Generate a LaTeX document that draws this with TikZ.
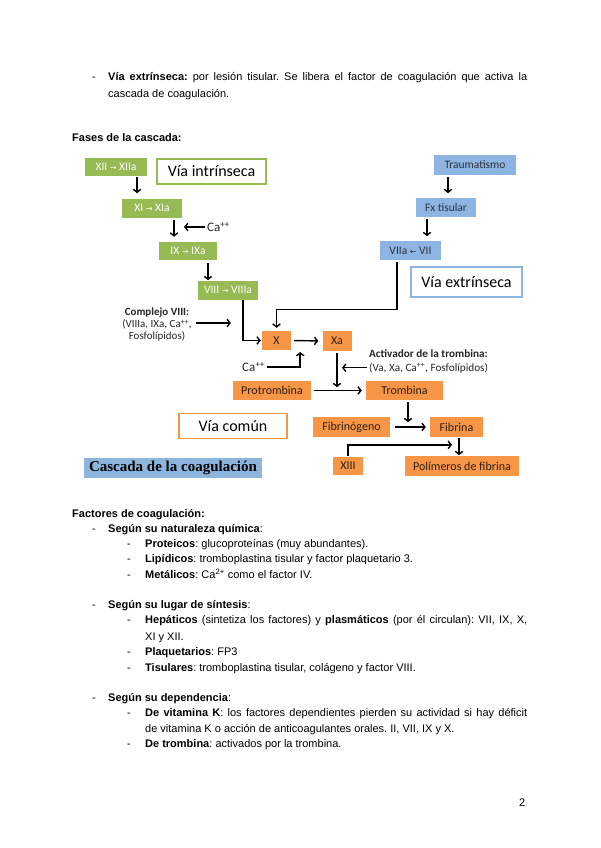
\documentclass[tikz,border=0pt]{standalone}
\usepackage{fontspec}
\setmainfont{Liberation Sans}
\newfontfamily\calib{Carlito}
\newfontfamily\tnr{Liberation Serif}
\newfontfamily\djv{DejaVu Sans}
\usetikzlibrary{arrows.meta}
\definecolor{gfill}{RGB}{150,186,84}
\definecolor{bfill}{RGB}{141,180,226}
\definecolor{ofill}{RGB}{247,150,70}
\definecolor{tfill}{RGB}{141,180,220}
\definecolor{btext}{RGB}{45,50,60}
\definecolor{otext}{RGB}{45,30,20}
\newcommand{\rar}{{\djv\fontsize{8}{9}\selectfont →}}
\newcommand{\lar}{{\djv\fontsize{8}{9}\selectfont ←}}
\frenchspacing
\begin{document}
\begin{tikzpicture}[x=1pt,y=-1pt,
  txt/.style={anchor=base west,inner sep=0pt,font=\fontsize{11}{13}\selectfont},
  sz/.style 2 args={minimum width=#1pt,minimum height=#2pt},
  gbox/.style={fill=gfill,text=white,inner sep=0pt,font=\calib\fontsize{11.5}{13}\selectfont},
  bbox/.style={fill=bfill,text=btext,inner sep=0pt,font=\calib\fontsize{11.5}{13}\selectfont},
  obox/.style={fill=ofill,text=otext,inner sep=0pt,font=\calib\fontsize{12}{13}\selectfont},
  lbl/.style={fill=white,draw=#1,line width=1.6pt,inner sep=0pt,font=\calib\fontsize{16}{18}\selectfont},
  dtxt/.style={inner sep=0pt,text=black!85,font=\calib\fontsize{10}{12}\selectfont},
  arr/.style={draw,line width=1.4pt,-{Straight Barb[length=3pt,width=7.5pt]}}
]
\useasboundingbox (0,0) rectangle (600,848);
\fill[white] (0,0) rectangle (600,848);

% ---------- body text top ----------
\node[txt] (d1) at (92,81) {-};
\node[txt] (t1) at (108,81) {\makebox[419pt][s]{\textbf{Vía extrínseca:} por lesión tisular. Se libera el factor de coagulación que activa la}};
\node[txt] (t2) at (108,98) {cascada de coagulación.};
\node[txt] (fases) at (72,142) {\textbf{Fases de la cascada:}};

% ---------- diagram: intrinsic ----------
\node[gbox,sz={62}{18}] (g1) at (116,167) {XII \rar{} XIIa};
\node[lbl=gfill,sz={109}{25}] (vi) at (211.5,171.5) {Vía intrínseca};
\node[gbox,sz={60}{19}] (g2) at (152,208) {XI \rar{} XIa};
\node[gbox,sz={58}{18}] (g3) at (188,251) {IX \rar{} IXa};
\node[gbox,sz={60}{19}] (g4) at (228,290) {VIII \rar{} VIIIa};
\node[dtxt,anchor=west,font=\calib\fontsize{13}{15}\selectfont] (ca1) at (207,227) {Ca\textsuperscript{++}};

\draw[arr] ([xshift=21pt,yshift=-1pt]g1.south) -- ++(0,16);
\draw[arr] ([xshift=22pt,yshift=-2pt]g2.south) -- ++(0,17);
\draw[arr] ([xshift=-2pt]ca1.west) -- ++(-21,0);
\draw[arr] ([xshift=20pt,yshift=-3pt]g3.south) -- ++(0,17);

% ---------- diagram: extrinsic ----------
\node[bbox,sz={82}{20}] (b1) at (475,165) {Traumatismo};
\node[bbox,sz={60}{19}] (b2) at (446,207.5) {Fx tisular};
\node[bbox,sz={61}{19}] (b3) at (410.5,250.5) {VIIa \lar{} VII};
\node[lbl=bfill,sz={111}{30}] (ve) at (466.5,282) {Vía extrínseca};

\draw[arr] ([xshift=-27pt,yshift=-2pt]b1.south) -- ++(0,16);
\draw[arr] ([xshift=-19pt,yshift=-2pt]b2.south) -- ++(0,17);

% ---------- diagram: common ----------
\node[obox,sz={29}{19}] (X) at (276.5,340.5) {X};
\node[obox,sz={29}{20}] (Xa) at (337,341) {Xa};
\node[obox,sz={78}{19}] (pro) at (272,390.5) {Protrombina};
\node[obox,sz={77}{19}] (tro) at (404.5,390.5) {Trombina};
\node[obox,sz={77}{20}] (fg) at (351.5,427) {Fibrinógeno};
\node[obox,sz={53}{20}] (fb) at (456.5,427) {Fibrina};
\node[obox,sz={30}{18}] (x13) at (348,466) {XIII};
\node[obox,sz={114}{20}] (pol) at (462,466) {Polímeros de fibrina};
\node[lbl=ofill,sz={108}{25}] (vc) at (233,426) {Vía común};
\node[fill=tfill,sz={178}{20},inner sep=0pt,font=\tnr\bfseries\fontsize{15}{17}\selectfont] (tit) at (173,468) {Cascada de la coagulación};

\node[dtxt,align=center,font=\calib\fontsize{11}{12}\selectfont] (cx) at (157,325) {\textbf{Complejo VIII:}\\(VIIIa, IXa, Ca\textsuperscript{++},\\Fosfolípidos)};
\node[dtxt,anchor=west,font=\calib\fontsize{13}{15}\selectfont] (ca2) at (242,367) {Ca\textsuperscript{++}};
\node[dtxt,anchor=base west,font=\calib\fontsize{11.2}{13}\selectfont] (act1) at (369,357) {\textbf{Activador de la trombina:}};
\node[dtxt,anchor=base west,font=\calib\fontsize{11.2}{13}\selectfont] (act2) at (369,371) {(Va, Xa, Ca\textsuperscript{++}, Fosfolípidos)};

\draw[arr] ([xshift=-13.5pt,yshift=-2pt]b3.south) -- ++(0,47) -| ([yshift=3pt]X.north);
\draw[arr] ([xshift=15pt]g4.south) |- ([xshift=-1pt]X.west);
\draw[arr] ([xshift=4pt,yshift=2pt]cx.east) -- ++(35,0);
\draw[arr,shorten <=3pt,shorten >=4pt] (X.east) -- (Xa.west);
\draw[arr] ([xshift=2pt]ca2.east) -| ++(33,-15);
\draw[arr] ([yshift=-2pt]Xa.south) -- ++(0,34);
\draw[arr] ([xshift=-2pt]act2.west) -- ++(-25,0);
\draw[arr,shorten <=3pt,shorten >=4pt] (pro.east) -- (tro.west);
\draw[arr] ([xshift=3.5pt,yshift=-2pt]tro.south) -- ++(0,20);
\draw[arr,shorten <=5pt,shorten >=4pt] (fg.east) -- (fb.west);
\draw[arr] ([yshift=1pt]x13.north) |- ++(104,-11);
\draw[arr] ([xshift=2.5pt,yshift=-1pt]fb.south) -- ++(0,17);

% ---------- body text bottom ----------
\node[txt] (fac) at (72,517) {\textbf{Factores de coagulación:}};
\node[txt] (d2) at (92,532) {-};
\node[txt] (s1) at (108,532) {\textbf{Según su naturaleza química}:};
\node[txt] (d3) at (127,547) {-};
\node[txt] (s1a) at (145,547) {\textbf{Proteicos}: glucoproteínas (muy abundantes).};
\node[txt] (d4) at (127,562) {-};
\node[txt] (s1b) at (145,562) {\textbf{Lipídicos}: tromboplastina tisular y factor plaquetario 3.};
\node[txt] (d5) at (127,578) {-};
\node[txt] (s1c) at (145,578) {\textbf{Metálicos}: Ca\textsuperscript{2+} como el factor IV.};

\node[txt] (d6) at (92,608) {-};
\node[txt] (s2) at (108,608) {\textbf{Según su lugar de síntesis}:};
\node[txt] (d7) at (127,623) {-};
\node[txt] (s2a) at (145,623) {\makebox[382pt][s]{\textbf{Hepáticos} (sintetiza los factores) y \textbf{plasmáticos} (por él circulan): VII, IX, X,}};
\node[txt] (s2a2) at (145,640) {XI y XII.};
\node[txt] (d8) at (127,655) {-};
\node[txt] (s2b) at (145,655) {\textbf{Plaquetarios}: FP3};
\node[txt] (d9) at (127,671) {-};
\node[txt] (s2c) at (145,671) {\textbf{Tisulares}: tromboplastina tisular, colágeno y factor VIII.};

\node[txt] (d10) at (92,701) {-};
\node[txt] (s3) at (108,701) {\textbf{Según su dependencia}:};
\node[txt] (d11) at (127,716) {-};
\node[txt] (s3a) at (145,716) {\makebox[382pt][s]{\textbf{De vitamina K}: los factores dependientes pierden su actividad si hay déficit}};
\node[txt] (s3a2) at (145,732) {de vitamina K o acción de anticoagulantes orales. II, VII, IX y X.};
\node[txt] (d12) at (127,747) {-};
\node[txt] (s3b) at (145,747) {\textbf{De trombina}: activados por la trombina.};

\node[txt] (pg) at (519,806) {2};
\end{tikzpicture}
\end{document}
